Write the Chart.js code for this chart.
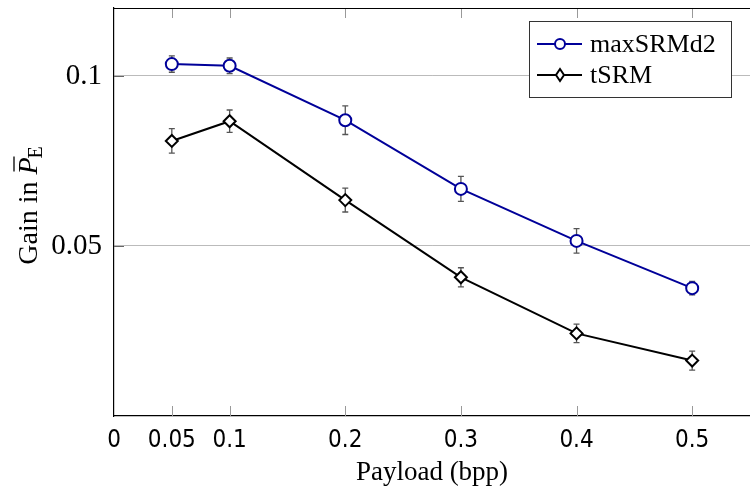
<!DOCTYPE html>
<html>
<head>
<meta charset="utf-8">
<script src="https://cdn.jsdelivr.net/npm/chart.js@4/dist/chart.umd.min.js"></script>
<style>
  body { margin: 0; background: #fff; }
  #wrap { width: 750px; height: 493px; overflow: hidden; }
  canvas { display: block; }
</style>
</head>
<body>
<div id="wrap"><canvas id="gain-chart"></canvas></div>
<script>
// data
var payload = [0.05, 0.1, 0.2, 0.3, 0.4, 0.5];
var maxSRMd2 = [0.1035, 0.103, 0.087, 0.0668, 0.0515, 0.0376];
var maxSRMd2Err = [0.0024, 0.0023, 0.0042, 0.0037, 0.0036, 0.002];
var tSRM = [0.0809, 0.0867, 0.0635, 0.0408, 0.0243, 0.0163];
var tSRMErr = [0.0036, 0.0033, 0.0035, 0.0028, 0.0027, 0.0028];
var xTicks = [0, 0.05, 0.1, 0.2, 0.3, 0.4, 0.5];
var yTicks = [0.05, 0.1];

var serif = "'Liberation Serif', 'DejaVu Serif', serif";
var sans = "'DejaVu Sans Condensed', 'Liberation Sans Narrow', Roboto, sans-serif";
var blue = '#000099';

function toPoints(vals) {
    return payload.map(function (p, i) { return { x: p, y: vals[i] }; });
}

// error bars, inner tick marks and top frame line
var frame = {
    id: 'frame',
    beforeDatasetsDraw: function (chart) {
        var ctx = chart.ctx, x = chart.scales.x, y = chart.scales.y, a = chart.chartArea;
        ctx.save();
        ctx.strokeStyle = '#999';
        ctx.lineWidth = 1;
        xTicks.forEach(function (t) {
            if (t === 0) return;
            var px = Math.round(x.getPixelForValue(t)) + 0.5;
            ctx.beginPath();
            ctx.moveTo(px, a.bottom); ctx.lineTo(px, a.bottom - 10);
            ctx.moveTo(px, a.top); ctx.lineTo(px, a.top + 10);
            ctx.stroke();
        });
        ctx.strokeStyle = '#666';
        yTicks.forEach(function (t) {
            var py = Math.round(y.getPixelForValue(t)) + 0.5;
            ctx.beginPath();
            ctx.moveTo(a.left, py); ctx.lineTo(a.left + 10, py);
            ctx.stroke();
        });
        // error bars
        ctx.strokeStyle = '#555';
        ctx.lineWidth = 1.3;
        [[maxSRMd2, maxSRMd2Err], [tSRM, tSRMErr]].forEach(function (s) {
            payload.forEach(function (p, j) {
                var px = x.getPixelForValue(p);
                var t = y.getPixelForValue(s[0][j] + s[1][j]);
                var b = y.getPixelForValue(s[0][j] - s[1][j]);
                ctx.beginPath();
                ctx.moveTo(px, t); ctx.lineTo(px, b);
                ctx.moveTo(px - 3, t); ctx.lineTo(px + 3, t);
                ctx.moveTo(px - 3, b); ctx.lineTo(px + 3, b);
                ctx.stroke();
            });
        });
        ctx.restore();
    },
    afterDraw: function (chart) {
        var ctx = chart.ctx, a = chart.chartArea;
        ctx.save();
        ctx.strokeStyle = '#000';
        ctx.lineWidth = 1.2;
        ctx.beginPath();
        ctx.moveTo(a.left, a.top + 0.5); ctx.lineTo(a.right, a.top + 0.5);
        ctx.stroke();

        // legend box
        ctx.fillStyle = '#fff';
        ctx.fillRect(529, 21, 202, 76);
        ctx.strokeStyle = '#333';
        ctx.lineWidth = 1;
        ctx.strokeRect(529.5, 21.5, 202, 76);
        var rows = [
            { label: 'maxSRMd2', color: blue, y: 44, shape: 'circle' },
            { label: 'tSRM', color: '#000', y: 75, shape: 'diamond' }
        ];
        rows.forEach(function (r) {
            ctx.strokeStyle = r.color;
            ctx.lineWidth = 2;
            ctx.beginPath();
            ctx.moveTo(537, r.y); ctx.lineTo(582, r.y);
            ctx.stroke();
            ctx.fillStyle = '#fff';
            ctx.beginPath();
            if (r.shape === 'circle') {
                ctx.arc(560, r.y, 5, 0, Math.PI * 2);
            } else {
                ctx.moveTo(560, r.y - 6); ctx.lineTo(564, r.y);
                ctx.lineTo(560, r.y + 6); ctx.lineTo(556, r.y);
                ctx.closePath();
            }
            ctx.fill();
            ctx.stroke();
            ctx.fillStyle = '#000';
            ctx.font = '26px ' + serif;
            ctx.textBaseline = 'middle';
            ctx.textAlign = 'left';
            ctx.fillText(r.label, 590, r.y + 1);
        });

        // y axis title: Gain in P-bar with subscript E
        ctx.translate(37, 205);
        ctx.rotate(-Math.PI / 2);
        ctx.fillStyle = '#000';
        ctx.textBaseline = 'alphabetic';
        ctx.textAlign = 'left';
        ctx.font = '28px ' + serif;
        var w1 = ctx.measureText('Gain in ').width;
        ctx.font = 'italic 28px ' + serif;
        var w2 = ctx.measureText('P').width;
        ctx.font = '20px ' + serif;
        var w3 = ctx.measureText('E').width;
        var x0 = -(w1 + w2 + w3) / 2;
        ctx.font = '28px ' + serif;
        ctx.fillText('Gain in ', x0, 0);
        ctx.font = 'italic 28px ' + serif;
        ctx.fillText('P', x0 + w1, 0);
        ctx.strokeStyle = '#000';
        ctx.lineWidth = 1.3;
        ctx.beginPath();
        ctx.moveTo(x0 + w1 + 3, -23); ctx.lineTo(x0 + w1 + w2 + 1, -23);
        ctx.stroke();
        ctx.font = '20px ' + serif;
        ctx.fillText('E', x0 + w1 + w2 - 1, 5);
        ctx.restore();
    }
};

new Chart(document.getElementById('gain-chart'), {
    type: 'line',
    data: {
        datasets: [
            {
                label: 'maxSRMd2',
                data: toPoints(maxSRMd2),
                borderColor: blue,
                backgroundColor: '#fff',
                borderWidth: 2,
                pointStyle: 'circle',
                pointRadius: 6,
                pointBorderWidth: 2,
                pointBackgroundColor: '#fff',
                pointBorderColor: blue
            },
            {
                label: 'tSRM',
                data: toPoints(tSRM),
                borderColor: '#000',
                backgroundColor: '#fff',
                borderWidth: 2,
                pointStyle: 'rectRot',
                pointRadius: 6,
                pointBorderWidth: 2,
                pointBackgroundColor: '#fff',
                pointBorderColor: '#000'
            }
        ]
    },
    options: {
        responsive: true,
        maintainAspectRatio: false,
        animation: false,
        layout: { autoPadding: false, padding: { top: 8, right: 0, left: 0, bottom: 0 } },
        plugins: {
            legend: { display: false },
            tooltip: { enabled: false }
        },
        scales: {
            x: {
                type: 'linear',
                min: 0,
                max: 0.55,
                afterBuildTicks: function (s) { s.ticks = xTicks.map(function (v) { return { value: v }; }); },
                afterFit: function (s) { s.height = 77; s.paddingLeft = 0; s.paddingRight = 0; },
                grid: { display: false, drawTicks: false },
                border: { display: true, color: '#000', width: 1.2 },
                ticks: {
                    padding: 10,
                    maxRotation: 0,
                    autoSkip: false,
                    color: '#000',
                    font: { family: sans, size: 24 },
                    callback: function (v) { return String(v); }
                },
                title: {
                    display: true,
                    text: 'Payload (bpp)',
                    color: '#000',
                    font: { family: serif, size: 27 },
                    padding: { top: 4 }
                }
            },
            y: {
                min: 0,
                max: 0.12,
                afterBuildTicks: function (s) { s.ticks = yTicks.map(function (v) { return { value: v }; }); },
                afterFit: function (s) { s.width = 114; s.paddingTop = 0; s.paddingBottom = 0; },
                grid: { color: '#bbb', lineWidth: 1, drawTicks: false },
                border: { display: true, color: '#000', width: 1.2 },
                ticks: {
                    padding: 12,
                    color: '#000',
                    font: { family: serif, size: 29 },
                    callback: function (v) { return String(v); }
                }
            }
        }
    },
    plugins: [frame]
});
</script>
</body>
</html>
